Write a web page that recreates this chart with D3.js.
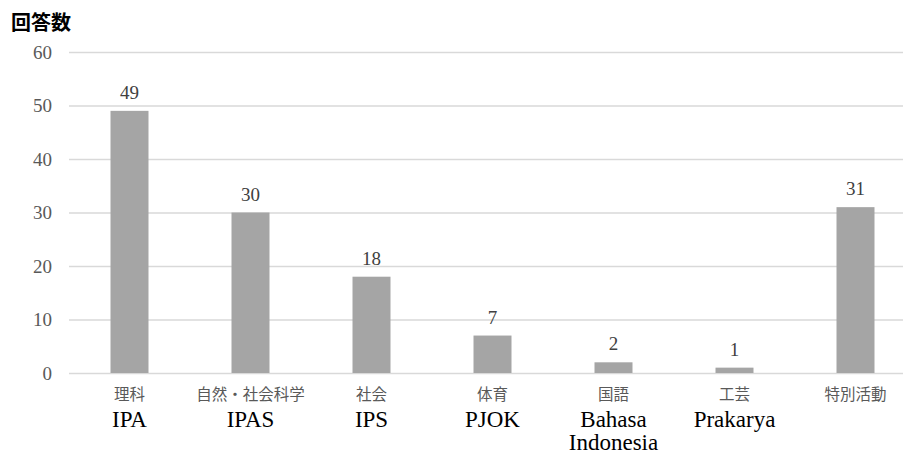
<!DOCTYPE html>
<html>
<head>
<meta charset="utf-8">
<script src="https://cdn.jsdelivr.net/npm/d3@7"></script>
<style>
  html, body { margin: 0; padding: 0; background: #fff; }
  svg { display: block; }
</style>
</head>
<body>
<svg id="chart" width="903" height="454"></svg>
<script>
// Subjects (Japanese name and Indonesian name, the latter possibly over several lines)
const subjectsJa = ["理科", "自然・社会科学", "社会", "体育", "国語", "工芸", "特別活動"];
const subjectsId = [["IPA"], ["IPAS"], ["IPS"], ["PJOK"], ["Bahasa", "Indonesia"], ["Prakarya"], []];
// Number of responses per subject
const responses = [49, 30, 18, 7, 2, 1, 31];
// Value axis ticks
const yTicks = [0, 10, 20, 30, 40, 50, 60];
const yTitle = "回答数";

const svg = d3.select("#chart");
const serif = "'Liberation Serif', 'Times New Roman', serif";
const cjk = "'Noto Sans CJK JP', sans-serif";

const x = d3.scaleBand()
  .domain(subjectsJa)
  .range([69, 916])
  .paddingInner(0.686)
  .paddingOuter(0.343);

const y = d3.scaleLinear().domain([0, 60]).range([373, 52]);

// Horizontal gridlines with value labels
const yAxis = d3.axisLeft(y).tickValues(yTicks).tickSize(-(916 - 69)).tickPadding(17);
const gy = svg.append("g").attr("transform", "translate(69,0)").call(yAxis);
gy.select(".domain").remove();
gy.selectAll(".tick line").attr("stroke", "#d9d9d9").attr("stroke-width", 1.3);
gy.selectAll(".tick text")
  .attr("fill", "#595959")
  .style("font-family", serif)
  .style("font-size", "19px");

// Axis title
svg.append("text")
  .attr("x", 11).attr("y", 30)
  .attr("fill", "#000")
  .style("font-family", cjk)
  .style("font-weight", "bold")
  .style("font-size", "20px")
  .text(yTitle);

// Bars
svg.append("g").selectAll("rect")
  .data(responses)
  .join("rect")
  .attr("x", (d, i) => x(subjectsJa[i]))
  .attr("width", x.bandwidth())
  .attr("y", d => y(d))
  .attr("height", d => y(0) - y(d))
  .attr("fill", "#a5a5a5");

// Value labels above the bars
svg.append("g").selectAll("text")
  .data(responses)
  .join("text")
  .attr("x", (d, i) => x(subjectsJa[i]) + x.bandwidth() / 2)
  .attr("y", d => y(d) - 12)
  .attr("text-anchor", "middle")
  .attr("fill", "#404040")
  .style("font-family", serif)
  .style("font-size", "19px")
  .text(d => d);

// Category labels: Japanese line, then Indonesian lines
const cat = svg.append("g").selectAll("g")
  .data(subjectsJa)
  .join("g")
  .attr("transform", d => `translate(${x(d) + x.bandwidth() / 2},0)`);

cat.append("text")
  .attr("y", 400)
  .attr("text-anchor", "middle")
  .attr("fill", "#595959")
  .style("font-family", cjk)
  .style("font-size", "15.5px")
  .text(d => d);

cat.each(function (d, i) {
  const t = d3.select(this).append("text")
    .attr("text-anchor", "middle")
    .attr("fill", "#000")
    .style("font-family", serif)
    .style("font-size", "23px");
  subjectsId[i].forEach((line, k) => {
    t.append("tspan").attr("x", 0).attr("y", 427 + k * 23).text(line);
  });
});
</script>
</body>
</html>
